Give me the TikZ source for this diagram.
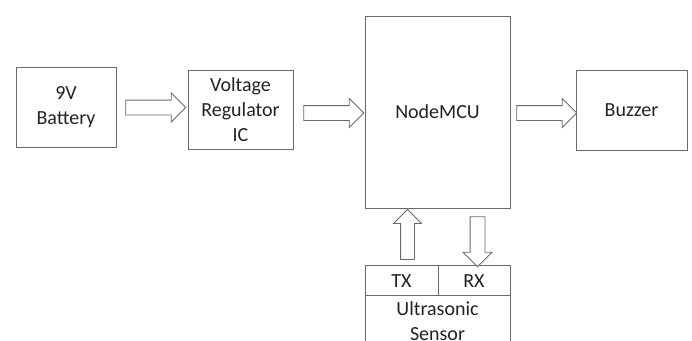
\documentclass[tikz,border=0pt]{standalone}
\usepackage{fontspec}
\setmainfont{Carlito}
\usetikzlibrary{shapes.arrows}
\definecolor{linecol}{HTML}{6A6A6A}
\definecolor{txtcol}{HTML}{222222}
\begin{document}
\begin{tikzpicture}[x=1pt,y=-1pt,
  font=\fontsize{20}{25}\selectfont,
  box/.style={draw=linecol,line width=1pt,text=txtcol,align=center,inner sep=0pt},
  lbl/.style={text=txtcol,align=center,inner sep=0pt},
  blockarrow/.style={shape=single arrow,draw=linecol,line width=0.9pt,fill=white,
    single arrow head extend=7pt,single arrow tip angle=90,
    inner xsep=0pt,inner ysep=7pt,minimum height=#1},
  blockarrow/.default=60pt]
\useasboundingbox (0,0) rectangle (692,340);
\begin{scope}
\clip (0,0) rectangle (692,340);
% boxes
\node[box,minimum width=100pt,minimum height=80pt] (bat) at (66,107) {9V\\Battery};
\node[box,minimum width=105pt,minimum height=79pt] (reg) at (240.5,109.5) {Voltage\\Regulator\\IC};
\node[box,minimum width=145pt,minimum height=192pt] (mcu) at (437.5,112) {NodeMCU};
\node[box,minimum width=111pt,minimum height=80pt] (buz) at (631.5,110) {Buzzer};
% sensor
\node[box,minimum width=145pt,minimum height=110pt,anchor=north] (sen) at (437.5,265) {};
\draw[linecol,line width=1pt] (sen.west |- 0,295) -- (sen.east |- 0,295);
\draw[linecol,line width=1pt] (sen.north) ++(0.5,0) -- ++(0,30);
\node[lbl] (tx) at (401.5,281) {TX};
\node[lbl] (rx) at (474,281) {RX};
\node[lbl] (ultra) at (437.5,321) {Ultrasonic\\Sensor};
% arrows
\node[blockarrow] (a1) at (152,107.5) {};
\node[blockarrow] (a2) at (330,113) {};
\node[blockarrow] (a3) at (543,113) {};
\node[blockarrow=50pt,inner ysep=6.5pt,rotate=90] (a4) at (407.5,238) {};
\node[blockarrow=50pt,rotate=-90] (a5) at (477.5,238) {};
\end{scope}
\end{tikzpicture}
\end{document}
